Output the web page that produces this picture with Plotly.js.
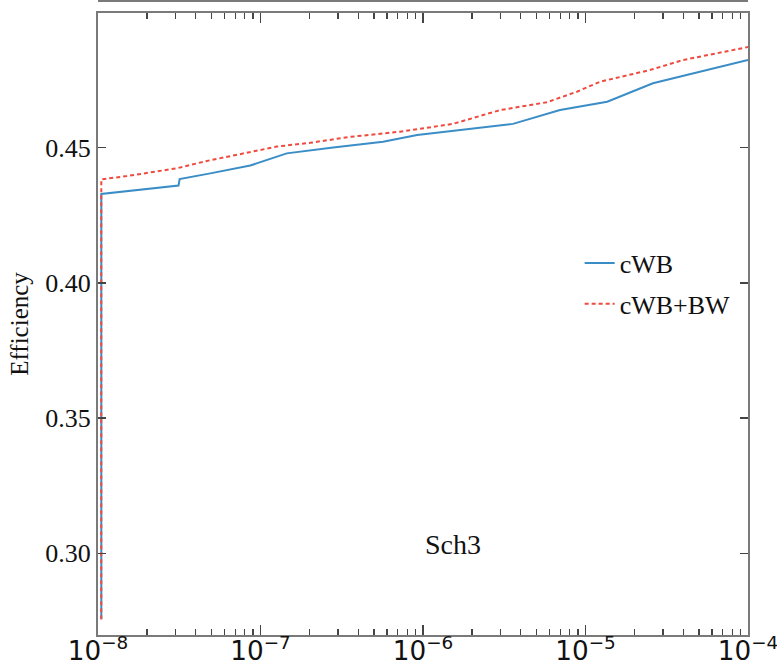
<!DOCTYPE html>
<html>
<head>
<meta charset="utf-8">
<script src="https://cdn.plot.ly/plotly-3.0.1.min.js"></script>
<style>
  html, body { margin: 0; padding: 0; background: #fff; }
  #chart { width: 777px; height: 671px; }
</style>
</head>
<body>
<div id="chart"></div>
<script>
// False-alarm rate (x, log scale) and efficiency (y)
const xCwb = [1.048e-8, 1.048e-8, 3.13e-8, 3.18e-8, 4.91e-8, 8.65e-8, 1.45e-7, 2.02e-7, 2.80e-7, 5.68e-7, 9.2e-7, 3.58e-6, 6.97e-6, 1.36e-5, 2.60e-5, 1e-4];
const yCwb = [0.2756, 0.4329, 0.4360, 0.4384, 0.4405, 0.4434, 0.4479, 0.4491, 0.4501, 0.4522, 0.4547, 0.4588, 0.4639, 0.4670, 0.4738, 0.4824];

const xBw = [1.048e-8, 1.048e-8, 1.51e-8, 3.06e-8, 4.68e-8, 7.83e-8, 1.26e-7, 2.02e-7, 3.56e-7, 7.23e-7, 1.53e-6, 2.98e-6, 5.79e-6, 8.86e-6, 1.23e-5, 2.49e-5, 3.97e-5, 1e-4];
const yBw = [0.2756, 0.4383, 0.4395, 0.4424, 0.4451, 0.4479, 0.4504, 0.4518, 0.4540, 0.4559, 0.4588, 0.4639, 0.4668, 0.4707, 0.4744, 0.4787, 0.4824, 0.4872];

const seriesNames = ['cWB', 'cWB+BW'];
const yTickVals = [0.30, 0.35, 0.40, 0.45];
const panelLabel = 'Sch3';
const yTitle = 'Efficiency';

const serif = '"Liberation Serif", "DejaVu Serif", serif';

const traces = [
  {
    x: xCwb, y: yCwb, name: seriesNames[0], mode: 'lines', legendgroup: 'a',
    line: { color: '#3A8DC6', width: 2 }
  },
  {
    x: xBw, y: yBw, name: seriesNames[1], mode: 'lines', legendgroup: 'b',
    line: { color: '#EE4A3F', width: 2, dash: '4px,3px' }
  }
];

const axisCommon = {
  showline: true, linecolor: '#7a7a7a', linewidth: 2,
  mirror: 'allticks', ticks: 'inside', tickcolor: '#444', tickwidth: 1.5,
  showgrid: false, zeroline: false
};

const layout = {
  width: 777, height: 671,
  margin: { l: 98, r: 29, t: 13, b: 36 },
  paper_bgcolor: '#fff', plot_bgcolor: '#fff',
  font: { family: serif, color: '#111' },
  showlegend: true,
  legend: {
    x: 0.741, y: 0.565, xanchor: 'left', yanchor: 'middle',
    font: { family: serif, size: 26, color: '#111' },
    bgcolor: 'rgba(0,0,0,0)', borderwidth: 0,
    traceorder: 'grouped', tracegroupgap: 4
  },
  xaxis: Object.assign({}, axisCommon, {
    type: 'log', range: [-8, -3.99995], dtick: 1, ticklen: 10,
    exponentformat: 'power', ticklabelstandoff: -7, ticklabeloverflow: 'allow',
    tickfont: { family: '"DejaVu Sans", sans-serif', size: 21, color: '#111' },
    minor: { ticks: 'inside', ticklen: 6, tickcolor: '#444', tickwidth: 1.2, dtick: 'D1', showgrid: false }
  }),
  yaxis: Object.assign({}, axisCommon, {
    range: [0.2698, 0.4998], tickvals: yTickVals, tickformat: '.2f', ticklen: 8,
    tickfont: { family: serif, size: 26, color: '#111' },
    title: { text: yTitle, font: { family: serif, size: 25, color: '#111' }, standoff: 10 }
  }),
  annotations: [{
    text: panelLabel, xref: 'paper', yref: 'paper', x: 0.546, y: 0.145,
    xanchor: 'center', yanchor: 'middle',
    showarrow: false, font: { family: serif, size: 28, color: '#111' }
  }],
  shapes: [{
    type: 'line', xref: 'paper', yref: 'paper', x0: 0, x1: 1,
    y0: 1 + 12 / 622, y1: 1 + 12 / 622,
    line: { color: '#7a7a7a', width: 2 }
  }]
};

Plotly.newPlot('chart', traces, layout, { displayModeBar: false, staticPlot: true });
</script>
</body>
</html>
